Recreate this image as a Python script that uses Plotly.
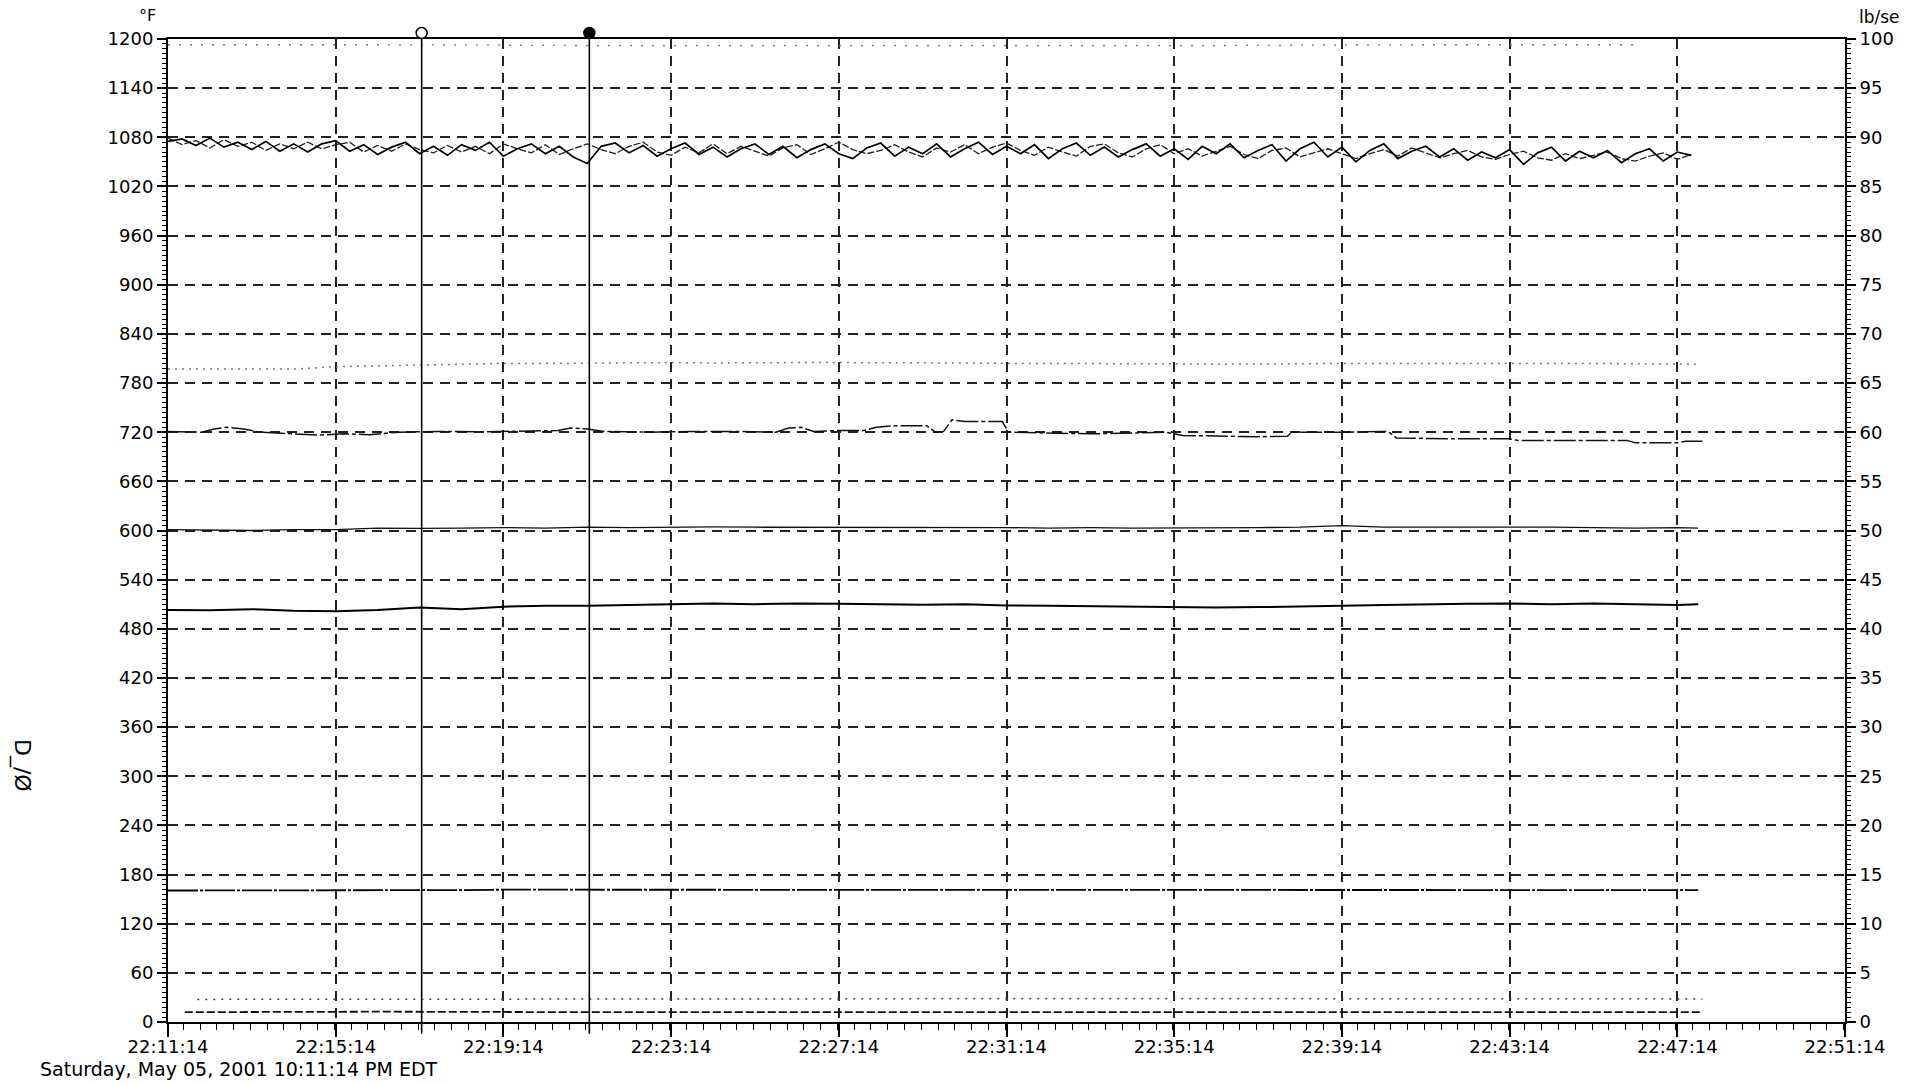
import pandas as pd
import plotly.graph_objects as go

# ---- time base -------------------------------------------------------------
start = pd.Timestamp("2001-05-05 22:11:14")
end = pd.Timestamp("2001-05-05 22:51:14")

# ---- fast-scan pair of exhaust temperatures (20 s samples, degF) -----------
fast_step_s = 20
temp_a = [
    1075, 1078, 1070, 1079, 1068, 1074, 1065, 1075, 1063, 1072,
    1062, 1072, 1076, 1063, 1071, 1059, 1068, 1074, 1060, 1069,
    1058, 1071, 1064, 1074, 1057, 1066, 1072, 1060, 1069, 1056,
    1048, 1069, 1073, 1061, 1070, 1057, 1066, 1073, 1059, 1068,
    1056, 1066, 1072, 1059, 1069, 1055, 1065, 1072, 1060, 1054,
    1067, 1073, 1057, 1068, 1060, 1072, 1056, 1066, 1074, 1059,
    1069, 1060, 1071, 1054, 1066, 1073, 1058, 1068, 1056, 1065,
    1072, 1057, 1066, 1053, 1069, 1060, 1072, 1055, 1064, 1071,
    1051, 1066, 1074, 1056, 1068, 1050, 1064, 1072, 1054, 1063,
    1069, 1056, 1066, 1052, 1062, 1055, 1065, 1047, 1061, 1068,
    1051, 1063, 1055, 1064, 1049, 1060, 1066, 1051, 1062, 1058,
]
temp_b = [
    1079, 1071, 1076, 1067, 1077, 1069, 1074, 1064, 1072, 1066,
    1074, 1066, 1071, 1074, 1062, 1070, 1063, 1072, 1065, 1061,
    1070, 1062, 1069, 1060, 1072, 1066, 1061, 1071, 1059, 1066,
    1072, 1065, 1060, 1069, 1074, 1062, 1058, 1068, 1061, 1072,
    1060, 1069, 1063, 1057, 1067, 1071, 1059, 1066, 1074, 1065,
    1060, 1064, 1071, 1062, 1056, 1067, 1062, 1071, 1060, 1068,
    1073, 1064, 1058, 1068, 1062, 1057, 1069, 1072, 1061, 1056,
    1066, 1071, 1060, 1066, 1057, 1063, 1069, 1059, 1054, 1064,
    1067, 1056, 1061, 1066, 1060, 1054, 1060, 1065, 1057, 1067,
    1061, 1055, 1060, 1064, 1056, 1053, 1059, 1063, 1055, 1052,
    1060, 1054, 1058, 1062, 1054, 1051, 1057, 1061, 1053, 1059,
]

# ---- slow channels, one reading per minute (degF) --------------------------
minute_marks = [0, 1, 2, 3, 4, 5, 6, 7, 8, 9, 10, 11, 12, 13, 14, 15, 16, 17,
                18, 19, 20, 21, 22, 23, 24, 25, 26, 27, 28, 29, 30, 31, 32, 33,
                34, 35, 36, 36.5]
temp_800 = [797, 797, 796.5, 797, 800, 801, 802, 802.5, 804, 804, 804.5, 805,
            805, 804.5, 805, 805, 805, 805, 804.5, 804.5, 804, 804, 804, 804,
            803.5, 803, 803, 803.5, 804, 804, 804, 804, 804.5, 804, 804,
            803.5, 803, 803]
temp_600 = [601, 600.5, 600, 601, 601, 603, 602.5, 603, 603.5, 603, 604,
            603.5, 604, 604.5, 604, 604, 604, 603.5, 604, 604, 603.5, 603,
            603.5, 603, 603, 603, 603.5, 604, 606, 604, 604, 604, 604.5, 604,
            603.5, 603, 603.5, 603]
temp_510 = [503, 502.5, 504, 502, 501.5, 503, 506, 504, 507, 508, 508, 509,
            510, 511, 510, 511, 510.5, 510, 509.5, 510, 508.5, 508, 507.5,
            507, 506.5, 506, 506.5, 507, 508, 509, 510, 510.5, 511, 510, 511,
            510, 509, 510]
temp_160 = [160.5, 160.5, 160.5, 160.5, 160.5, 160.5, 161, 161, 161.5, 161.5,
            161.5, 161.5, 161.5, 161.5, 161.5, 161.5, 161.5, 161.5, 161.5,
            161.5, 161.5, 161.5, 161.5, 161.5, 161.5, 161.5, 161.5, 161, 161,
            161, 161, 161, 161, 161, 161, 161, 161, 161]

# ---- stepping channel near 720 degF ---------------------------------------
step_minutes = [0, 0.8, 1.1, 1.4, 1.8, 2.2, 3.0, 3.6, 4.2, 4.8, 5.5, 6.5, 7.5,
                8.5, 9.3, 9.6, 10.0, 10.4, 11.5, 12.5, 13.5, 14.5, 14.8, 15.1,
                15.4, 16.0, 16.6, 16.9, 17.3, 18.1, 18.3, 18.5, 18.7, 19.0,
                19.9, 20.05, 21.0, 22.0, 23.0, 23.8, 24.2, 25.0, 26.0, 26.7,
                26.8, 28.0, 29.1, 29.3, 30.5, 32.0, 32.2, 34.8, 35.0, 36.0,
                36.2, 36.6]
temp_720 = [721, 720, 724, 726, 724, 720, 718, 716.5, 718, 717, 720, 721,
            720.5, 721, 722, 725, 724, 721, 720, 721, 721, 720, 725, 726,
            721, 722, 722, 726, 728, 728, 720, 721, 735, 733, 733, 720, 719,
            718, 719, 720, 716, 715, 714.5, 715, 720, 720, 721, 713, 712,
            712, 710, 710, 707, 707, 709, 709]

# ---- sparse channels -------------------------------------------------------
top_minutes = [0, 5, 10, 15, 20, 25, 30, 35]
temp_top = [1193, 1193, 1192, 1192, 1192, 1192, 1193, 1193]

flow_minutes_hi = [0.7, 5, 10, 15, 20, 25, 30, 36.6]
flow_hi = [2.3, 2.3, 2.35, 2.35, 2.4, 2.4, 2.35, 2.35]          # lb/sec
flow_minutes_lo = [0.4, 5, 10, 15, 20, 25, 30, 36.6]
flow_lo = [1.0, 1.05, 1.0, 1.0, 1.05, 1.05, 1.0, 1.0]           # lb/sec

# ---- cursors ---------------------------------------------------------------
cursor_times = ["2001-05-05 22:17:17", "2001-05-05 22:21:17"]
cursor_fill = ["white", "black"]

date_caption = "Saturday, May 05, 2001 10:11:14 PM EDT"
note_text = "D_/Ø"


def at(minutes):
    return start + pd.to_timedelta(minutes, unit="min")


fast_times = start + pd.to_timedelta(
    [i * fast_step_s for i in range(len(temp_a))], unit="s")

FONT = "DejaVu Sans"
fig = go.Figure()


def line_trace(x, y, color="black", width=1.4, dash="solid", yaxis="y"):
    fig.add_trace(go.Scatter(
        x=x, y=y, mode="lines", yaxis=yaxis, showlegend=False,
        hoverinfo="skip", line=dict(color=color, width=width, dash=dash)))


line_trace(at(top_minutes), temp_top, color="#777", width=1.3, dash="2px,9px")
line_trace(fast_times, temp_b, color="#222", width=1.3, dash="7px,2px")
line_trace(fast_times, temp_a, color="black", width=1.7)
line_trace(at(minute_marks), temp_800, color="#777", width=1.5, dash="2px,5px")
line_trace(at(step_minutes), temp_720, color="#111", width=1.5,
           dash="22px,3px,4px,3px")
line_trace(at(minute_marks), temp_600, color="#111", width=1.3)
line_trace(at(minute_marks), temp_510, color="black", width=2.0)
line_trace(at(minute_marks), temp_160, color="black", width=1.8,
           dash="30px,2px,3px,2px")
line_trace(at(flow_minutes_hi), flow_hi, color="#444", width=1.5,
           dash="2px,6px", yaxis="y2")
line_trace(at(flow_minutes_lo), flow_lo, color="#111", width=1.8,
           dash="8px,3px", yaxis="y2")

# cursor lines with their heads sitting on the top frame
for t, fill in zip(cursor_times, cursor_fill):
    fig.add_shape(type="line", xref="x", yref="paper", x0=t, x1=t,
                  y0=-0.012, y1=1.0, line=dict(color="black", width=1.6))
    fig.add_shape(type="circle", xref="x", xsizemode="pixel", xanchor=t,
                  x0=-5.5, x1=5.5, yref="paper", ysizemode="pixel",
                  yanchor=1.0, y0=0.5, y1=11.5, fillcolor=fill,
                  line=dict(color="black", width=1.5))

grid_dash = "10px,7px"
fig.update_layout(
    width=1917, height=1084,
    margin=dict(l=168, r=72, t=39, b=62),
    paper_bgcolor="white", plot_bgcolor="white",
    font=dict(family=FONT, size=18, color="black"),
    xaxis=dict(
        type="date", range=[start, end],
        tick0=start, dtick=240000, tickformat="%H:%M:%S",
        showgrid=True, gridcolor="#222", gridwidth=1.5, griddash=grid_dash,
        showline=True, linecolor="black", linewidth=2, mirror=True,
        ticks="outside", ticklen=13, tickwidth=1.5, tickcolor="black",
        ticklabelstandoff=-6,
        minor=dict(dtick=24000, ticks="outside", ticklen=6, tickwidth=1.2,
                   tickcolor="black", showgrid=False),
        zeroline=False, tickfont=dict(family=FONT, size=18),
    ),
    yaxis=dict(
        range=[0, 1200], dtick=60, tick0=0,
        showgrid=True, gridcolor="#222", gridwidth=1.5, griddash=grid_dash,
        showline=True, linecolor="black", linewidth=2,
        ticks="outside", ticklen=9, tickwidth=1.5, tickcolor="black",
        minor=dict(dtick=6, ticks="outside", ticklen=4, tickwidth=1,
                   tickcolor="black", showgrid=False),
        zeroline=False, tickfont=dict(family=FONT, size=18),
    ),
    yaxis2=dict(
        range=[0, 100], dtick=5, tick0=0, overlaying="y", side="right",
        anchor="x", showgrid=False,
        showline=True, linecolor="black", linewidth=2,
        ticks="outside", ticklen=9, tickwidth=1.5, tickcolor="black",
        minor=dict(dtick=0.5, ticks="outside", ticklen=4, tickwidth=1,
                   tickcolor="black", showgrid=False),
        zeroline=False, tickfont=dict(family=FONT, size=18),
    ),
    annotations=[
        dict(text="°F", xref="paper", yref="paper", x=-0.0125, y=1.0244,
             xanchor="center", yanchor="middle", showarrow=False,
             font=dict(family=FONT, size=16)),
        dict(text="lb/se", xref="paper", yref="paper", x=1.0203, y=1.0219,
             xanchor="center", yanchor="middle", showarrow=False,
             font=dict(family=FONT, size=17)),
        dict(text=date_caption, xref="paper", yref="paper", x=-0.0775,
             y=-0.0478, xanchor="left", yanchor="middle", showarrow=False,
             font=dict(family=FONT, size=19)),
        dict(text=note_text, xref="paper", yref="paper", x=-0.087, y=0.2614,
             xanchor="center", yanchor="middle", showarrow=False,
             textangle=90, font=dict(family=FONT, size=22)),
    ],
)

fig.write_html("out.html")
